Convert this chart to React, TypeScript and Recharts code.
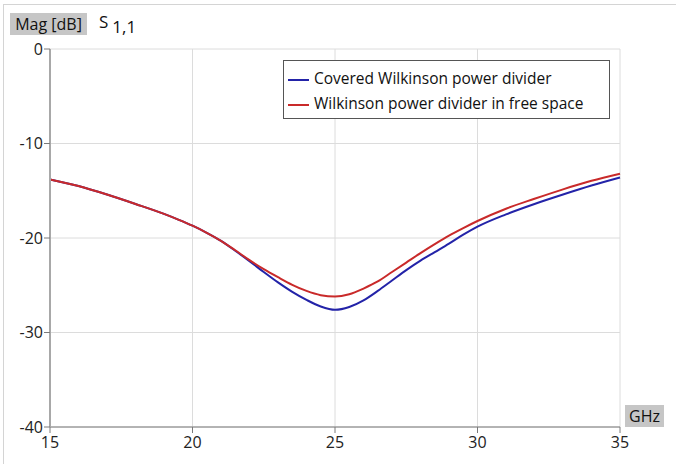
import React from "react";
import { LineChart, Line, XAxis, YAxis, CartesianGrid } from "recharts";

const freqs = [15, 16, 17, 18, 19, 19.5, 20, 20.5, 21, 21.5, 22, 22.5, 23, 23.5, 24, 24.5, 25, 25.5, 26, 26.5, 27, 27.5, 28, 28.5, 29, 29.5, 30, 31, 32, 33, 34, 35];
const covered = [-13.8, -14.5, -15.4, -16.4, -17.45, -18.05, -18.7, -19.45, -20.3, -21.35, -22.45, -23.6, -24.7, -25.7, -26.55, -27.25, -27.6, -27.3, -26.6, -25.6, -24.5, -23.4, -22.4, -21.5, -20.6, -19.65, -18.8, -17.5, -16.4, -15.4, -14.45, -13.6];
const freeSpace = [-13.8, -14.5, -15.4, -16.4, -17.45, -18.05, -18.7, -19.45, -20.3, -21.3, -22.35, -23.3, -24.15, -24.95, -25.6, -26.05, -26.2, -25.95, -25.35, -24.6, -23.6, -22.6, -21.6, -20.65, -19.75, -18.95, -18.2, -16.9, -15.85, -14.85, -13.95, -13.2];
const xTicks = [15, 20, 25, 30, 35];
const yTicks = [0, -10, -20, -30, -40];
const seriesNames = ["Covered Wilkinson power divider", "Wilkinson power divider in free space"];
const seriesColors = ["#2323a8", "#c92a2a"];

const data = freqs.map((f, i) => ({ f, a: covered[i], b: freeSpace[i] }));

const FONT = "'Open Sans', 'Noto Sans', sans-serif";

const LegendBox = () => (
  <div
    style={{
      position: "absolute",
      left: 283,
      top: 60,
      border: "1px solid #555",
      background: "#fff",
      padding: "4px 6px 4px 4px",
      fontFamily: FONT,
      fontSize: 15.5,
      color: "#111",
      boxSizing: "border-box",
      width: 327,
      height: 59,
    }}
  >
    {seriesNames.map((n, i) => (
      <div key={n} style={{ display: "flex", alignItems: "center", height: 25, whiteSpace: "nowrap" }}>
        <span style={{ display: "inline-block", width: 21, height: 2, background: seriesColors[i], marginRight: 5, marginTop: 5 }} />
        <span>{n}</span>
      </div>
    ))}
  </div>
);

export default function App() {
  return (
    <div style={{ position: "absolute", left: 0, top: 0, width: 676, height: 464, background: "#fff", overflow: "hidden" }}>
      <div style={{ position: "absolute", left: 3, top: 4, width: 673, height: 460, borderTop: "1px solid #d4d4d4", borderLeft: "1px solid #d4d4d4" }} />
      <div style={{ position: "absolute", left: 0, top: 0 }}>
        <LineChart width={676} height={464} data={data} margin={{ top: 49, right: 56, bottom: 7, left: 0 }}>
          <CartesianGrid stroke="#dcdcdc" strokeWidth={1} />
          <XAxis
            dataKey="f"
            type="number"
            domain={[15, 35]}
            ticks={xTicks}
            height={30}
            tickSize={6}
            tickMargin={4}
            stroke="#7a7a7a"
            tick={{ fill: "#222", fontSize: 16, fontFamily: FONT }}
            tickLine={{ stroke: "#7a7a7a" }}
          />
          <YAxis
            type="number"
            domain={[-40, 0]}
            ticks={yTicks}
            width={50}
            tickSize={6}
            tickMargin={1}
            axisLine={{ stroke: "#a8a8a8", strokeWidth: 2 }}
            tickLine={{ stroke: "#7a7a7a" }}
            tick={{ fill: "#222", fontSize: 16, fontFamily: FONT }}
          />
          <Line dataKey="a" name={seriesNames[0]} type="monotone" stroke={seriesColors[0]} strokeWidth={2} dot={false} isAnimationActive={false} />
          <Line dataKey="b" name={seriesNames[1]} type="monotone" stroke={seriesColors[1]} strokeWidth={2} dot={false} isAnimationActive={false} />
        </LineChart>
      </div>
      <LegendBox />
      <div style={{ position: "absolute", left: 10, top: 13, width: 77, height: 22, background: "#c6c6c6", fontFamily: FONT, fontSize: 16, color: "#111", lineHeight: "22px", textAlign: "center", whiteSpace: "nowrap" }}>
        Mag [dB]
      </div>
      <div style={{ position: "absolute", left: 99, top: 11, fontFamily: FONT, fontSize: 17, color: "#111", lineHeight: "22px", whiteSpace: "nowrap" }}>
        S<span style={{ position: "relative", top: 5, marginLeft: 4 }}>1,1</span>
      </div>
      <div style={{ position: "absolute", left: 625, top: 405, width: 39, height: 22, background: "#c6c6c6", fontFamily: FONT, fontSize: 16, color: "#111", lineHeight: "22px", textAlign: "center" }}>
        GHz
      </div>
    </div>
  );
}
